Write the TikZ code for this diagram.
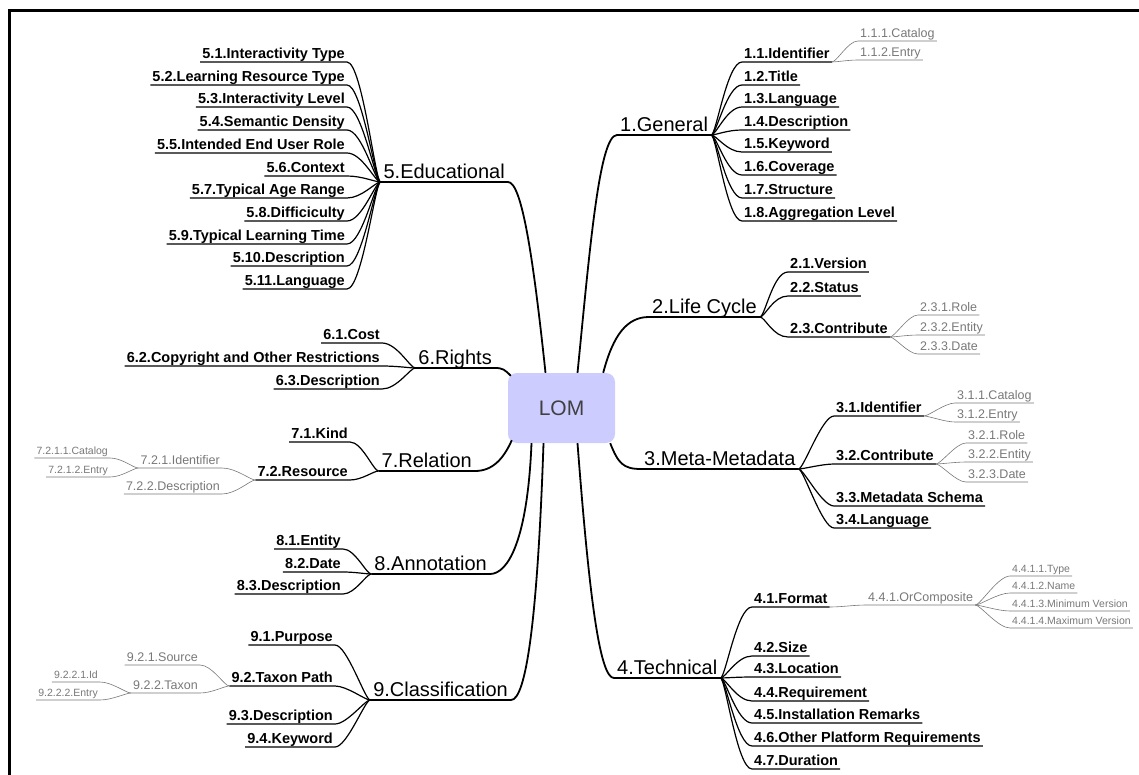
\documentclass[tikz,border=0pt]{standalone}
\usepackage{fontspec}
\setmainfont{Liberation Sans}
\usepackage{xcolor}
\definecolor{lomfill}{RGB}{204,204,255}
\definecolor{leafgray}{RGB}{120,120,120}
\usetikzlibrary{calc}

\begin{document}
\begin{tikzpicture}[x=1pt,y=-1pt,
  lomnode/.style={fill=lomfill,rounded corners=9pt,minimum width=107pt,minimum height=70pt,inner sep=0pt,font=\fontsize{21}{24}\selectfont,text=black!75},
  hdlbl/.style={font=\fontsize{20}{24}\selectfont,inner xsep=3pt,inner ysep=1pt,text depth=.2em},
  itlbl/.style={font=\bfseries\fontsize{14.5}{17}\selectfont,inner xsep=2pt,inner ysep=1pt,text depth=.25em},
  smlbl/.style={font=\fontsize{12.5}{15}\selectfont,text=leafgray,inner xsep=2pt,inner ysep=1pt,text depth=.25em},
  xslbl/.style={font=\fontsize{10.5}{13}\selectfont,text=leafgray,inner xsep=2pt,inner ysep=.5pt,text depth=.25em},
  lk1/.style={line width=1.8pt},
  lk2/.style={line width=1.2pt},
  lk3/.style={line width=.6pt,draw=leafgray}]
\useasboundingbox (0,0) rectangle (1139,775);
\draw[line width=3.5pt] (9.5,775) -- (9.5,10.5) -- (1139,10.5);

\node[lomnode] (lom) at (561.5,408) {LOM};

% main branches
\node[hdlbl,anchor=south west] (gen) at (617,135) {1.General};
\node[hdlbl,anchor=south west] (lc) at (649,317) {2.Life Cycle};
\node[hdlbl,anchor=south west] (mm) at (641,469) {3.Meta-Metadata};
\node[hdlbl,anchor=south west] (tec) at (614,678) {4.Technical};
\node[hdlbl,anchor=south east] (edu) at (508,182) {5.Educational};
\node[hdlbl,anchor=south east] (rig) at (495,368) {6.Rights};
\node[hdlbl,anchor=south east] (rel) at (475,471) {7.Relation};
\node[hdlbl,anchor=south east] (ann) at (490,574) {8.Annotation};
\node[hdlbl,anchor=south east] (cla) at (511,700) {9.Classification};

\draw[lk1] ($(lom.north)+(16,0)$) .. controls +(12,-120) and +(-18,0) .. (gen.south west) -- (gen.south east);
\draw[lk1] ($(lom.north east)+(-12,0)$) .. controls +(10,-38) and +(-22,0) .. (lc.south west) -- (lc.south east);
\draw[lk1] ($(lom.south east)+(-5,0)$) .. controls +(8,20) and +(-18,0) .. (mm.south west) -- (mm.south east);
\draw[lk1] ($(lom.south)+(16,0)$) .. controls +(12,157) and +(-14,0) .. (tec.south west) -- (tec.south east);
\draw[lk1] ($(lom.north)+(-16,0)$) .. controls +(-12,-113) and +(14,0) .. (edu.south east) -- (edu.south west);
\draw[lk1] ($(lom.north west)+(3,3)$) .. controls +(-6,-6) and +(8,0) .. (rig.south east) -- (rig.south west);
\draw[lk1] ($(lom.south west)+(4,-3)$) .. controls +(-8,18) and +(18,0) .. (rel.south east) -- (rel.south west);
\draw[lk1] ($(lom.south)+(-30,0)$) .. controls +(-4,97) and +(18,0) .. (ann.south east) -- (ann.south west);
\draw[lk1] ($(lom.south)+(-18,0)$) .. controls +(-6,177) and +(15,0) .. (cla.south east) -- (cla.south west);

% right side items
\foreach \id/\y/\txt in {g11/62/1.1.Identifier, g12/85/1.2.Title, g13/107/1.3.Language, g14/130/1.4.Description,
    g15/152/1.5.Keyword, g16/175/1.6.Coverage, g17/198/1.7.Structure, g18/221/1.8.Aggregation Level}{
  \node[itlbl,anchor=south west] (\id) at (742,\y) {\txt};
  \draw[lk2] (gen.south east) .. controls +(5,0) and +(-15,0) .. (\id.south west) -- (\id.south east);
}
\foreach \id/\y/\txt in {l21/272/2.1.Version, l22/296/2.2.Status, l23/337/2.3.Contribute}{
  \node[itlbl,anchor=south west] (\id) at (788,\y) {\txt};
  \draw[lk2] (lc.south east) .. controls +(5,0) and +(-15,0) .. (\id.south west) -- (\id.south east);
}
\foreach \id/\y/\txt in {m31/416/3.1.Identifier, m32/464/3.2.Contribute, m33/506/3.3.Metadata Schema, m34/528/3.4.Language}{
  \node[itlbl,anchor=south west] (\id) at (834,\y) {\txt};
  \draw[lk2] (mm.south east) .. controls +(5,0) and +(-12,0) .. (\id.south west) -- (\id.south east);
}
\foreach \id/\y/\txt in {t41/607/4.1.Format, t42/656/4.2.Size, t43/677/4.3.Location, t44/701/4.4.Requirement,
    t45/723/4.5.Installation Remarks, t46/746/4.6.Other Platform Requirements, t47/769/4.7.Duration}{
  \node[itlbl,anchor=south west] (\id) at (752,\y) {\txt};
  \draw[lk2] (tec.south east) .. controls +(5,0) and +(-15,0) .. (\id.south west) -- (\id.south east);
}

% right side sub-items
\foreach \id/\y/\txt in {g111/41/1.1.1.Catalog, g112/60/1.1.2.Entry}{
  \node[smlbl,anchor=south west] (\id) at (858,\y) {\txt};
  \draw[lk3] (g11.south east) .. controls +(5,0) and +(-10,0) .. (\id.south west) -- (\id.south east);
}
\foreach \id/\y/\txt in {l231/315/2.3.1.Role, l232/335/2.3.2.Entity, l233/354/2.3.3.Date}{
  \node[smlbl,anchor=south west] (\id) at (918,\y) {\txt};
  \draw[lk3] (l23.south east) .. controls +(5,0) and +(-10,0) .. (\id.south west) -- (\id.south east);
}
\foreach \id/\y/\txt in {m311/403/3.1.1.Catalog, m312/422/3.1.2.Entry}{
  \node[smlbl,anchor=south west] (\id) at (955,\y) {\txt};
  \draw[lk3] (m31.south east) .. controls +(5,0) and +(-10,0) .. (\id.south west) -- (\id.south east);
}
\foreach \id/\y/\txt in {m321/443/3.2.1.Role, m322/462/3.2.2.Entity, m323/482/3.2.3.Date}{
  \node[smlbl,anchor=south west] (\id) at (966,\y) {\txt};
  \draw[lk3] (m32.south east) .. controls +(5,0) and +(-10,0) .. (\id.south west) -- (\id.south east);
}
\node[smlbl,anchor=south west] (orc) at (866,605) {4.4.1.OrComposite};
\draw[lk3] (t41.south east) .. controls +(12,0) and +(-12,0) .. (orc.south west) -- (orc.south east);
\foreach \id/\y/\txt in {t4411/576/4.4.1.1.Type, t4412/593/4.4.1.2.Name, t4413/611/4.4.1.3.Minimum Version, t4414/628/4.4.1.4.Maximum Version}{
  \node[xslbl,anchor=south west] (\id) at (1010,\y) {\txt};
  \draw[lk3] (orc.south east) .. controls +(5,0) and +(-12,0) .. (\id.south west) -- (\id.south east);
}

% left side items
\foreach \id/\y/\txt in {e51/62/5.1.Interactivity Type, e52/85/5.2.Learning Resource Type, e53/107/5.3.Interactivity Level,
    e54/130/5.4.Semantic Density, e55/153/5.5.Intended End User Role, e56/176/5.6.Context, e57/198/5.7.Typical Age Range,
    e58/221/5.8.Difficiculty, e59/244/5.9.Typical Learning Time, e510/266/5.10.Description, e511/289/5.11.Language}{
  \node[itlbl,anchor=south east] (\id) at (347,\y) {\txt};
  \draw[lk2] (edu.south west) .. controls +(-5,0) and +(15,0) .. (\id.south east) -- (\id.south west);
}
\foreach \id/\y/\txt in {r61/343/6.1.Cost, r62/366/6.2.Copyright and Other Restrictions, r63/389/6.3.Description}{
  \node[itlbl,anchor=south east] (\id) at (382,\y) {\txt};
  \draw[lk2] (rig.south west) .. controls +(-5,0) and +(15,0) .. (\id.south east) -- (\id.south west);
}
\foreach \id/\y/\txt in {r71/442/7.1.Kind, r72/480/7.2.Resource}{
  \node[itlbl,anchor=south east] (\id) at (350,\y) {\txt};
  \draw[lk2] (rel.south west) .. controls +(-5,0) and +(12,0) .. (\id.south east) -- (\id.south west);
}
\foreach \id/\y/\txt in {a81/549/8.1.Entity, a82/572/8.2.Date, a83/594/8.3.Description}{
  \node[itlbl,anchor=south east] (\id) at (343,\y) {\txt};
  \draw[lk2] (ann.south west) .. controls +(-5,0) and +(12,0) .. (\id.south east) -- (\id.south west);
}
\foreach \id/\y/\txt in {c91/645/9.1.Purpose, c92/686/9.2.Taxon Path, c93/724/9.3.Description, c94/747/9.4.Keyword}{
  \node[itlbl,anchor=south east] (\id) at (335,\y) {\txt};
  \draw[lk2] (cla.south west) .. controls +(-5,0) and +(12,0) .. (\id.south east) -- (\id.south west);
}

% left side sub-items
\foreach \id/\y/\txt in {r721/468/7.2.1.Identifier, r722/494/7.2.2.Description}{
  \node[smlbl,anchor=south east] (\id) at (222,\y) {\txt};
  \draw[lk3] (r72.south west) .. controls +(-5,0) and +(14,0) .. (\id.south east) -- (\id.south west);
}
\foreach \id/\y/\txt in {r7211/458/7.2.1.1.Catalog, r7212/477/7.2.1.2.Entry}{
  \node[xslbl,anchor=south east] (\id) at (110,\y) {\txt};
  \draw[lk3] (r721.south west) .. controls +(-5,0) and +(12,0) .. (\id.south east) -- (\id.south west);
}
\foreach \id/\y/\txt in {c921/665/9.2.1.Source, c922/693/9.2.2.Taxon}{
  \node[smlbl,anchor=south east] (\id) at (200,\y) {\txt};
  \draw[lk3] (c92.south west) .. controls +(-5,0) and +(12,0) .. (\id.south east) -- (\id.south west);
}
\foreach \id/\y/\txt in {c9221/682/9.2.2.1.Id, c9222/700/9.2.2.2.Entry}{
  \node[xslbl,anchor=south east] (\id) at (100,\y) {\txt};
  \draw[lk3] (c922.south west) .. controls +(-5,0) and +(12,0) .. (\id.south east) -- (\id.south west);
}
\end{tikzpicture}
\end{document}
